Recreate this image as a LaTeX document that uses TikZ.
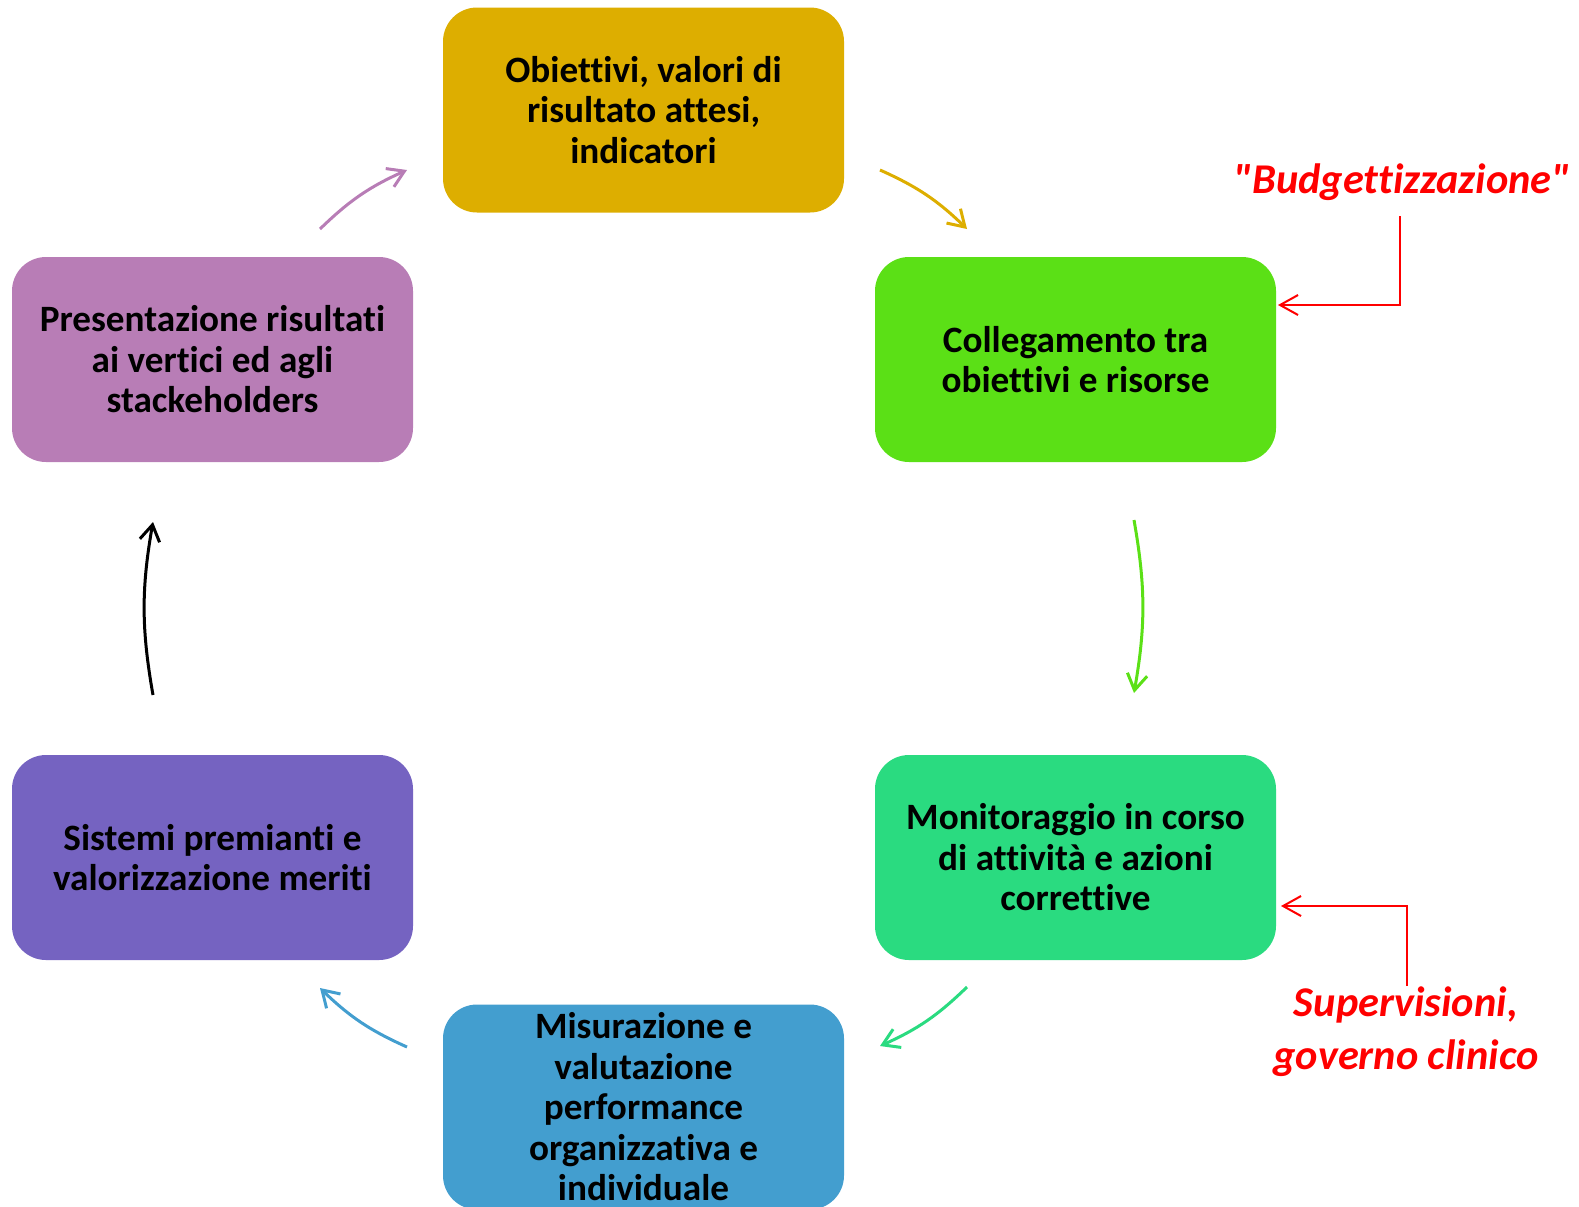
\documentclass[tikz,border=0pt]{standalone}
\usepackage{fontspec}
\setmainfont{Carlito}[Ligatures={TeX,NoCommon}]
\newfontfamily\notefont{Carlito}[Ligatures={TeXOff,NoCommon}]
\usetikzlibrary{arrows.meta}
\definecolor{cgold}{HTML}{DDAE00}
\definecolor{cgreen}{HTML}{5BE016}
\definecolor{cteal}{HTML}{2ADB80}
\definecolor{cblue}{HTML}{439ECF}
\definecolor{cpurple}{HTML}{7563C1}
\definecolor{cpink}{HTML}{B87DB6}
\definecolor{cred}{HTML}{FF0000}
\begin{document}
\begin{tikzpicture}[x=0.5pt,y=-0.5pt,
  box/.style={rounded corners=17pt, minimum width=200.5pt, minimum height=102.5pt,
    align=center, inner sep=0pt, text=black,
    font=\fontsize{18.6}{20.25}\selectfont\bfseries},
  flow/.style={line width=1.5pt, -{Straight Barb[length=8pt,width=10pt]}, bend left=10},
  note/.style={draw=cred, line width=1pt, -{Straight Barb[length=9pt,width=10pt]}},
  notetext/.style={text=cred, align=center, inner sep=0pt,
    font=\notefont\fontsize{21.2}{26.5}\selectfont\bfseries\itshape}]
\path[use as bounding box] (0,0) rectangle (1579,1206);
\clip (0,0) rectangle (1579,1206);

\node[box, fill=cgold]   (obj)  at (643.5,110)   {Obiettivi, valori di\\risultato attesi,\\indicatori};
\node[box, fill=cgreen]  (coll) at (1075.5,359.5) {Collegamento tra\\obiettivi e risorse};
\node[box, fill=cteal]   (mon)  at (1075.5,857.5) {Monitoraggio in corso\\di attività e azioni\\correttive};
\node[box, fill=cblue]   (mis)  at (643.5,1107)  {Misurazione e\\valutazione\\performance\\organizzativa e\\individuale};
\node[box, fill=cpurple] (sis)  at (212.5,857.5) {Sistemi premianti e\\valorizzazione meriti};
\node[box, fill=cpink]   (pres) at (212.5,359.5) {Presentazione risultati\\ai vertici ed agli\\stackeholders};

% free ends of the flow arrows
\coordinate (p1) at (320,229);  \coordinate (p2) at (407,170);
\coordinate (g1) at (880,170);  \coordinate (g2) at (967,229);
\coordinate (c1) at (1134,520); \coordinate (c2) at (1134,693);
\coordinate (t1) at (967,987);  \coordinate (t2) at (880,1046);
\coordinate (b1) at (407,1047); \coordinate (b2) at (320,988);
\coordinate (k1) at (153,695);  \coordinate (k2) at (153,522);

\draw[flow, draw=cpink]  (p1) to (p2);
\draw[flow, draw=cgold]  (g1) to (g2);
\draw[flow, draw=cgreen] (c1) to (c2);
\draw[flow, draw=cteal]  (t1) to (t2);
\draw[flow, draw=cblue]  (b1) to (b2);
\draw[flow, draw=black]  (k1) to (k2);

\node[notetext] (bud) at (1402,182) {"Budgettizzazione"};
\node[notetext] (sup) at (1406,1032) {Supervisioni,\\governo clinico};

\coordinate (bt) at (1400,216);
\coordinate (bc) at (1400,305);
\coordinate (be) at (1278,305);
\draw[note] (bt) -- (bc) -- (be);

\coordinate (st) at (1407,986);
\coordinate (sc) at (1407,906);
\coordinate (se) at (1281,906);
\draw[note] (st) -- (sc) -- (se);
\end{tikzpicture}
\end{document}
